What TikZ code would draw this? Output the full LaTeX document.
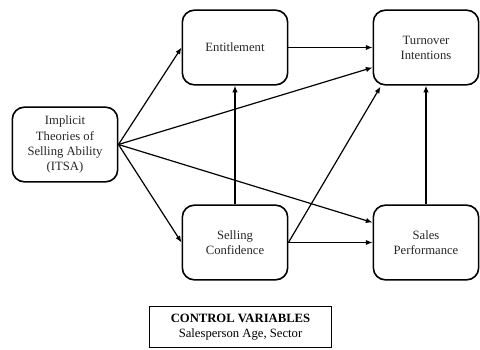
\documentclass[tikz,border=0pt]{standalone}
\usepackage{fontspec}
\setmainfont{Liberation Serif}
\usepackage{tikz}
\usetikzlibrary{arrows.meta,calc}

\begin{document}
\begin{tikzpicture}[x=0.75pt, y=-0.75pt,
    construct/.style={draw, rounded corners=9pt, align=center, line width=1.2pt, minimum width=79pt, minimum height=56pt, font=\fontsize{9.5}{11.3}\selectfont, text=black!85},
    controlbox/.style={draw, align=center, line width=0.6pt, minimum width=137pt, minimum height=31pt, font=\fontsize{9.5}{11.3}\selectfont},
    path/.style={-{Latex[length=5pt,width=4pt]}, line width=0.9pt}
  ]
    \useasboundingbox (0,0) rectangle (480,350);
    \node[construct] (itsa) at (65,144.5)  {Implicit\\Theories of\\Selling Ability\\(ITSA)};
    \node[construct] (ent)  at (235,47.5)  {Entitlement};
    \node[construct] (ti)   at (426,47.5)  {Turnover\\Intentions};
    \node[construct] (sc)   at (235,242.5) {Selling\\Confidence};
    \node[construct] (sp)   at (426,242.5) {Sales\\Performance};
    \node[controlbox] (ctrl) at (240.5,327) {\textbf{CONTROL VARIABLES}\\Salesperson Age, Sector};

    \draw[path] (itsa.east) -- (ent.west);
    \draw[path] (itsa.east) -- ($(ti.west)+(0,20)$);
    \draw[path] (itsa.east) -- ($(sp.west)+(0,-20)$);
    \draw[path] (itsa.east) -- (sc.west);
    \draw[path] (ent.east) -- (ti.west);
    \draw[path] (sc.north) -- (ent.south);
    \draw[path] (sc.east) -- ($(ti.south west)+(8,1)$);
    \draw[path] (sc.east) -- (sp.west);
    \draw[path] (sp.north) -- (ti.south);
\end{tikzpicture}
\end{document}
